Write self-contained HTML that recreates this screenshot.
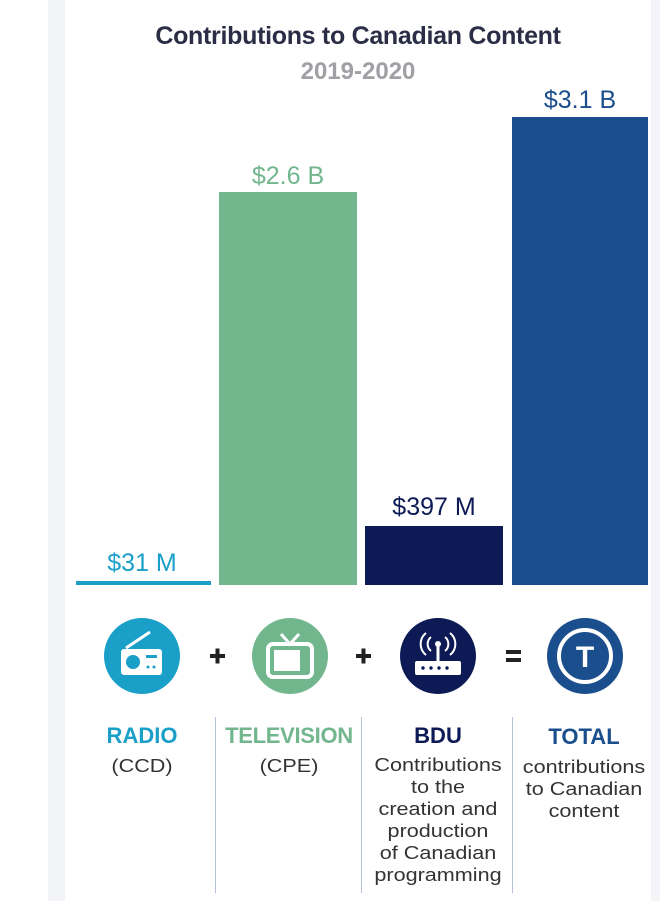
<!DOCTYPE html>
<html><head><style>
body{margin:0;width:660px;height:901px;background:#fff;position:relative;overflow:hidden;font-family:"Liberation Sans",sans-serif}
.a{position:absolute}
.t{position:absolute;text-align:center;white-space:nowrap;transform:translateX(-50%)}
.s{transform:translateX(-50%) scaleX(1.2)}
</style></head><body>
<div class="a" style="left:48px;top:0;width:17px;height:901px;background:#f2f3f7"></div>
<div class="a" style="left:651px;top:0;width:9px;height:901px;background:#f4f5f8"></div>
<div class="t" style="left:358px;top:22px;font-size:25px;font-weight:bold;color:#2a2d45;letter-spacing:-0.3px">Contributions to Canadian Content</div>
<div class="t" style="left:358px;top:58px;font-size:24px;font-weight:bold;color:#a0a0a4">2019-2020</div>

<div class="a" style="left:76px;top:581px;width:135px;height:4px;background:#1a9fc9"></div>
<div class="a" style="left:219px;top:192px;width:138px;height:393px;background:#72b68e"></div>
<div class="a" style="left:365px;top:526px;width:138px;height:59px;background:#0d1a56"></div>
<div class="a" style="left:512px;top:117px;width:136px;height:468px;background:#1b4e8c"></div>

<div class="t" style="left:142px;top:549px;font-size:25px;color:#1a9fc9">$31 M</div>
<div class="t" style="left:288px;top:162px;font-size:25px;color:#72b68e">$2.6 B</div>
<div class="t" style="left:434px;top:493px;font-size:25px;color:#0d1a56">$397 M</div>
<div class="t" style="left:580px;top:86px;font-size:25px;color:#1b4e8c">$3.1 B</div>

<svg class="a" style="left:0;top:600px" width="660" height="120">
<circle cx="142" cy="56" r="38" fill="#1a9fc9"/>
<rect x="121" y="49" width="41" height="26" rx="3" fill="#fff"/>
<line x1="126" y1="48" x2="150" y2="32" stroke="#fff" stroke-width="3"/>
<circle cx="133" cy="62" r="7" fill="#1a9fc9"/>
<rect x="146" y="55" width="11" height="3" fill="#1a9fc9"/>
<circle cx="148" cy="67" r="1.5" fill="#1a9fc9"/><circle cx="154" cy="67" r="1.5" fill="#1a9fc9"/>
<circle cx="290" cy="56" r="38" fill="#72b68e"/>
<rect x="268" y="44" width="44" height="33" rx="5" fill="none" stroke="#fff" stroke-width="4"/>
<rect x="274" y="50" width="26" height="21" fill="#fff"/>
<line x1="281" y1="34" x2="290" y2="44" stroke="#fff" stroke-width="3"/><line x1="299" y1="34" x2="290" y2="44" stroke="#fff" stroke-width="3"/>
<circle cx="438" cy="56" r="38" fill="#0d1a56"/>
<rect x="415" y="61" width="46" height="14" rx="2" fill="#fff"/>
<g fill="#0d1a56"><circle cx="423" cy="68" r="1.7"/><circle cx="431" cy="68" r="1.7"/><circle cx="439" cy="68" r="1.7"/><circle cx="447" cy="68" r="1.7"/></g>
<line x1="438" y1="45" x2="438" y2="61" stroke="#fff" stroke-width="3"/>
<circle cx="438" cy="44" r="3" fill="#fff"/>
<path d="M431 37 a9 9 0 0 0 0 14 M445 37 a9 9 0 0 1 0 14 M426 33 a14 14 0 0 0 0 22 M450 33 a14 14 0 0 1 0 22" fill="none" stroke="#fff" stroke-width="2"/>
<circle cx="585" cy="56" r="38" fill="#1b4e8c"/>
<circle cx="585" cy="56" r="26" fill="none" stroke="#fff" stroke-width="4"/>
<text x="585" y="67" text-anchor="middle" font-family="Liberation Sans" font-weight="bold" font-size="30" fill="#fff">T</text>
<g fill="#222"><rect x="210" y="54" width="15" height="4"/><rect x="215.5" y="48.5" width="4" height="15"/>
<rect x="356" y="54" width="15" height="4"/><rect x="361.5" y="48.5" width="4" height="15"/>
<rect x="506" y="50" width="15" height="4"/><rect x="506" y="58" width="15" height="4"/></g>
</svg>

<div class="a" style="left:215px;top:717px;width:1px;height:176px;background:#b4bfd8"></div>
<div class="a" style="left:361px;top:717px;width:1px;height:176px;background:#b4bfd8"></div>
<div class="a" style="left:512px;top:717px;width:1px;height:176px;background:#b4bfd8"></div>

<div class="t" style="left:142px;top:723px;font-size:22px;font-weight:bold;color:#1a9fc9">RADIO</div>
<div class="t s" style="left:142px;top:756px;font-size:18px;color:#333">(CCD)</div>
<div class="t" style="left:289px;top:723px;font-size:22px;font-weight:bold;color:#72b68e;letter-spacing:-0.3px">TELEVISION</div>
<div class="t s" style="left:289px;top:756px;font-size:18px;color:#333">(CPE)</div>
<div class="t" style="left:438px;top:723px;font-size:22px;font-weight:bold;color:#0d1a56">BDU</div>
<div class="t s" style="left:438px;top:754px;font-size:18px;line-height:22px;color:#333">Contributions<br>to the<br>creation and<br>production<br>of Canadian<br>programming</div>
<div class="t" style="left:584px;top:724px;font-size:22px;font-weight:bold;color:#1b4e8c">TOTAL</div>
<div class="t s" style="left:584px;top:756px;font-size:18px;line-height:22px;color:#333">contributions<br>to Canadian<br>content</div>
</body></html>
